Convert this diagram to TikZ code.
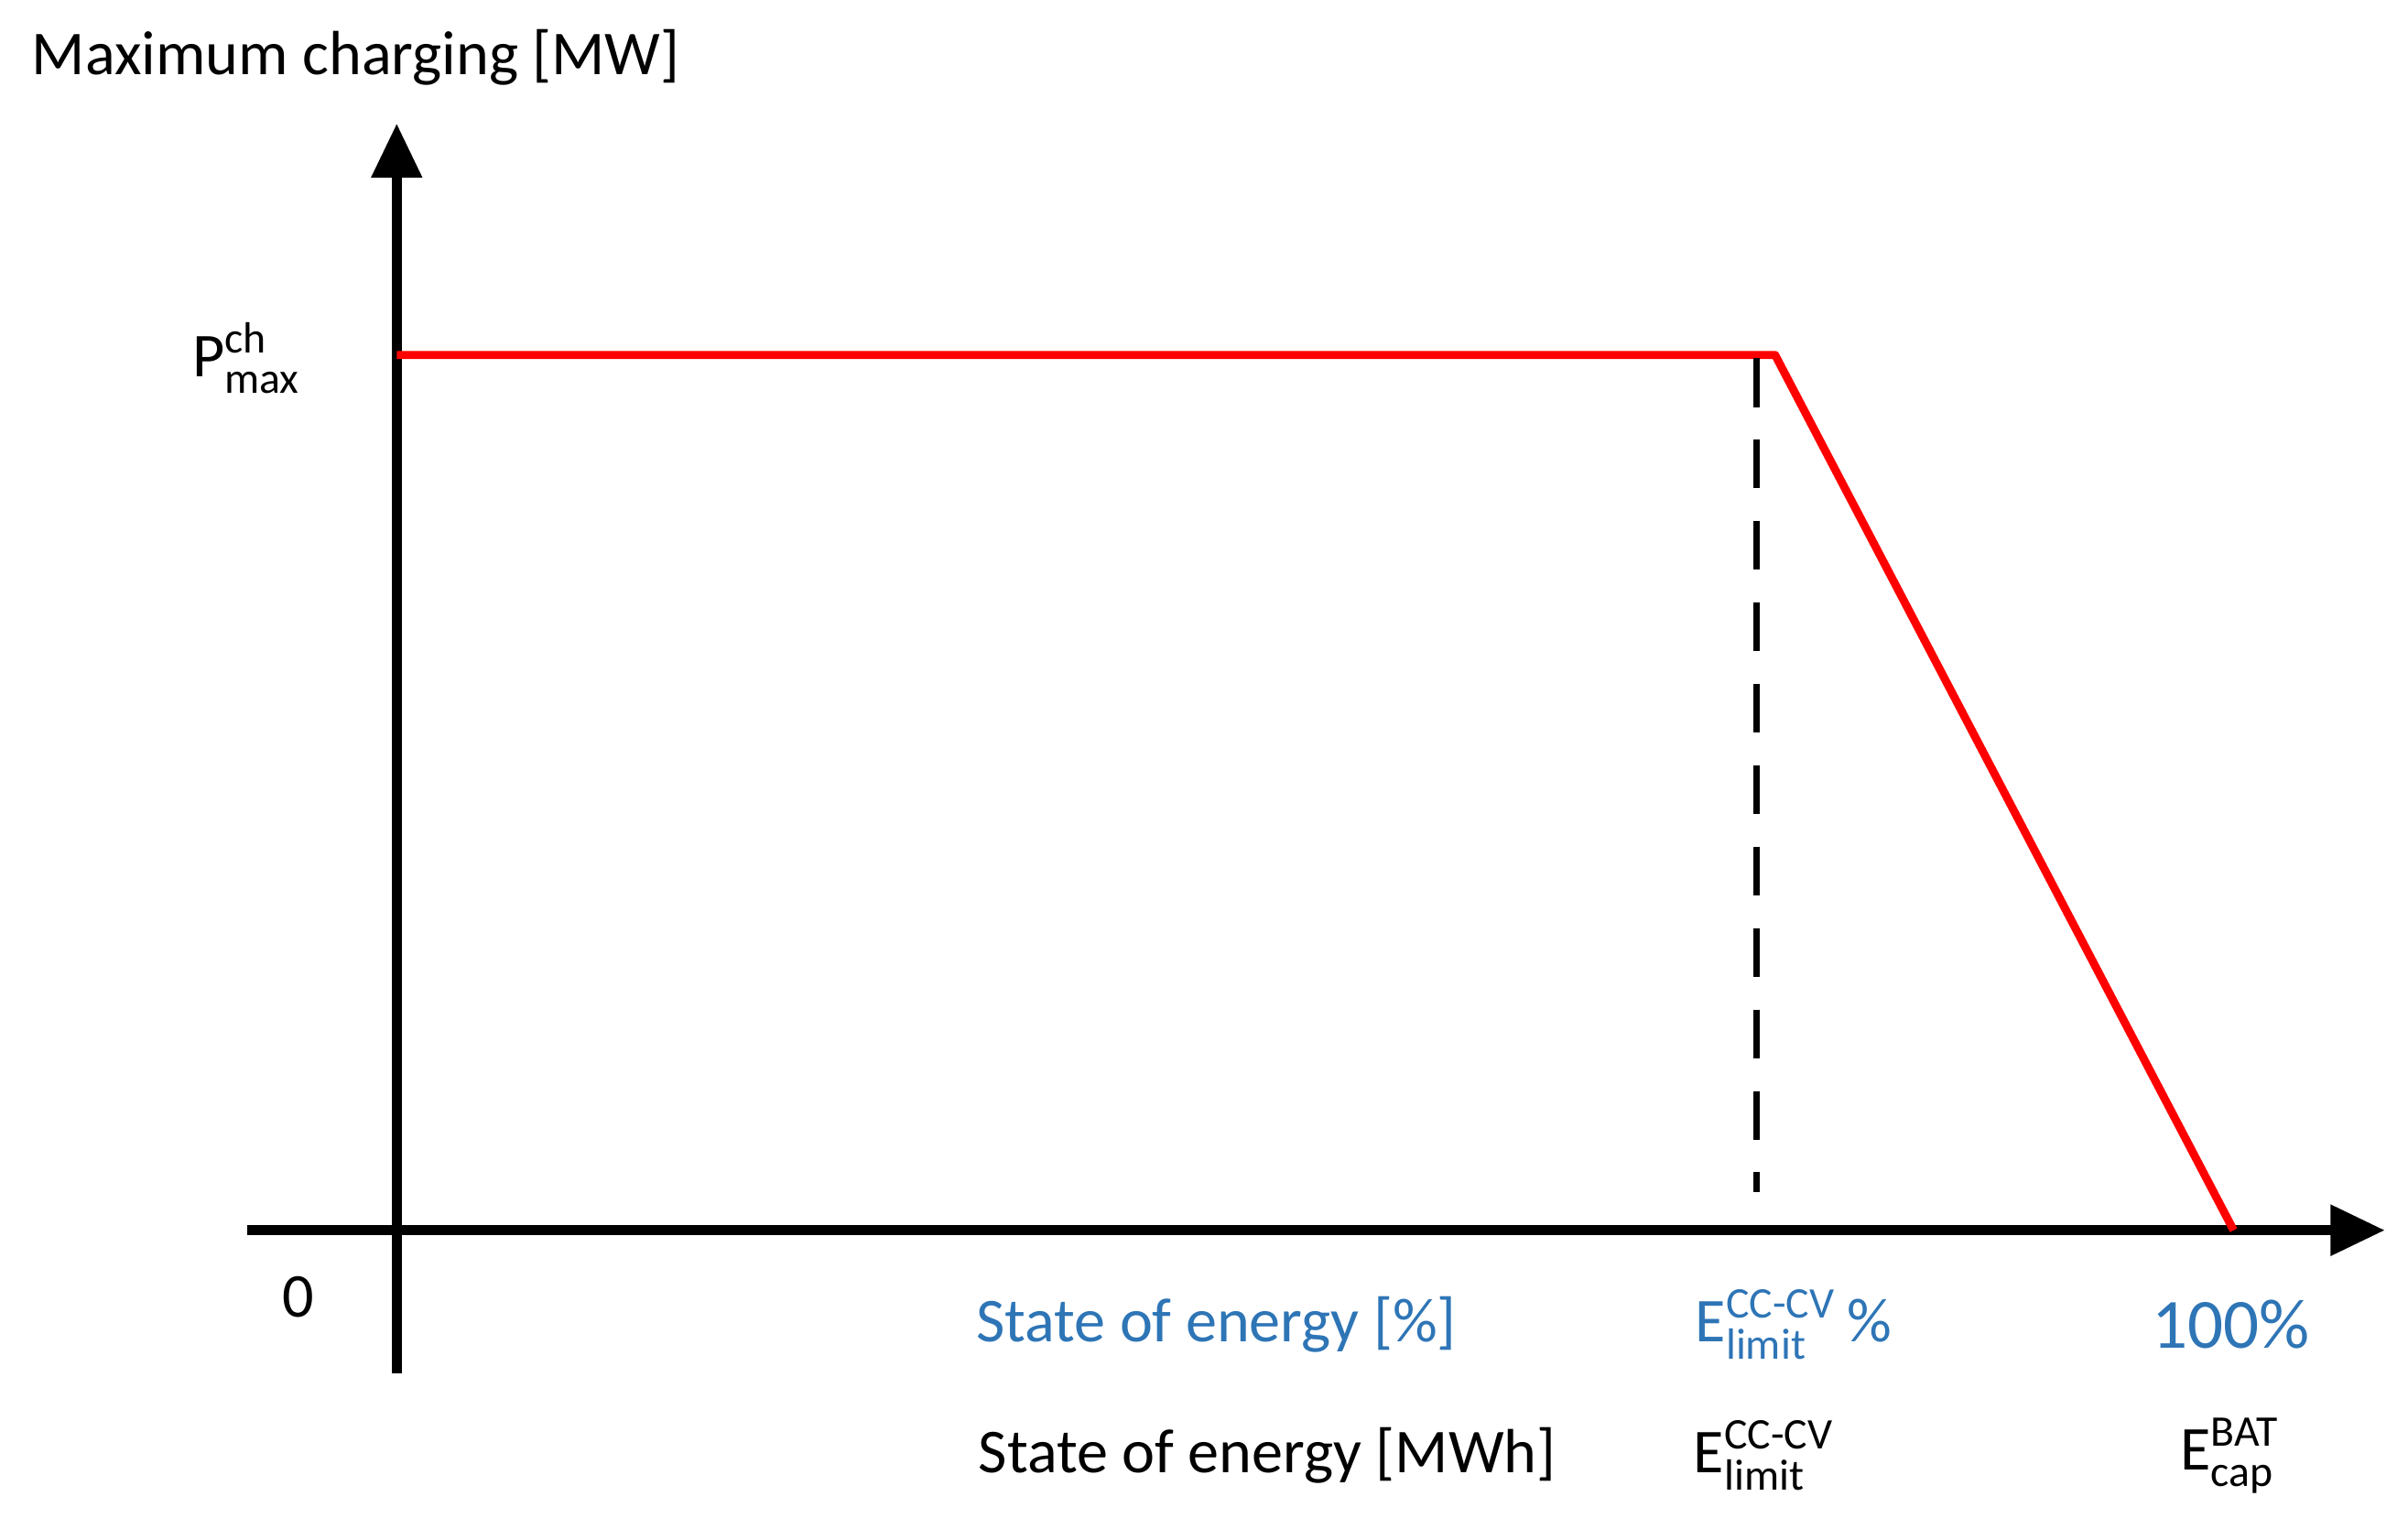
\documentclass[tikz,border=0pt]{standalone}
\usepackage{amsmath}
\usepackage{fontspec}
\setmainfont{Carlito}
\usetikzlibrary{arrows.meta}
\definecolor{sblue}{RGB}{46,117,182}
\begin{document}
\begin{tikzpicture}[x=0.01cm,y=-0.01cm,
 ax/.style={line width=1.8pt,-{Triangle[length=10pt,width=9pt]}},
 lbl/.style={font=\fontsize{11.5}{13}\selectfont,inner sep=0pt},
 blbl/.style={lbl,text=sblue}]
\useasboundingbox (0,0) rectangle (1560,990);
\coordinate (xs) at (160,797); \coordinate (xe) at (1545,797);
\coordinate (ys) at (257,890); \coordinate (ye) at (257,80);
\draw[ax] (xs) -- (xe);
\draw[ax] (ys) -- (ye);
\coordinate (p0) at (257,230); \coordinate (p1) at (1150,230); \coordinate (p2) at (1447,797);
\draw[red,line width=1.5pt,line join=round] (p0) -- (p1) -- (p2);
\coordinate (d0) at (1138,232); \coordinate (d1) at (1138,772);
\draw[line width=1.3pt,dash pattern=on 9pt off 6pt] (d0) -- (d1);
\node[lbl,anchor=west] (t) at (20,37) {Maximum charging [MW]};
\node[lbl] (pm) at (160,232) {P$^{\text{ch}}_{\text{max}}$};
\node[lbl] (z) at (193,840) {0};
\node[blbl] (s1) at (788,858) {State of energy [\%]};
\node[blbl] (s2) at (1162,858) {E$^{\text{CC-CV}}_{\text{limit}}$\,\%};
\node[blbl,font=\fontsize{13}{15}\selectfont] (s3) at (1445,858) {100\%};
\node[lbl] (m1) at (821,943) {State of energy [MWh]};
\node[lbl] (m2) at (1143,943) {E$^{\text{CC-CV}}_{\text{limit}}$};
\node[lbl] (m3) at (1445,943) {E$^{\text{BAT}}_{\text{cap}}$};
\end{tikzpicture}
\end{document}
